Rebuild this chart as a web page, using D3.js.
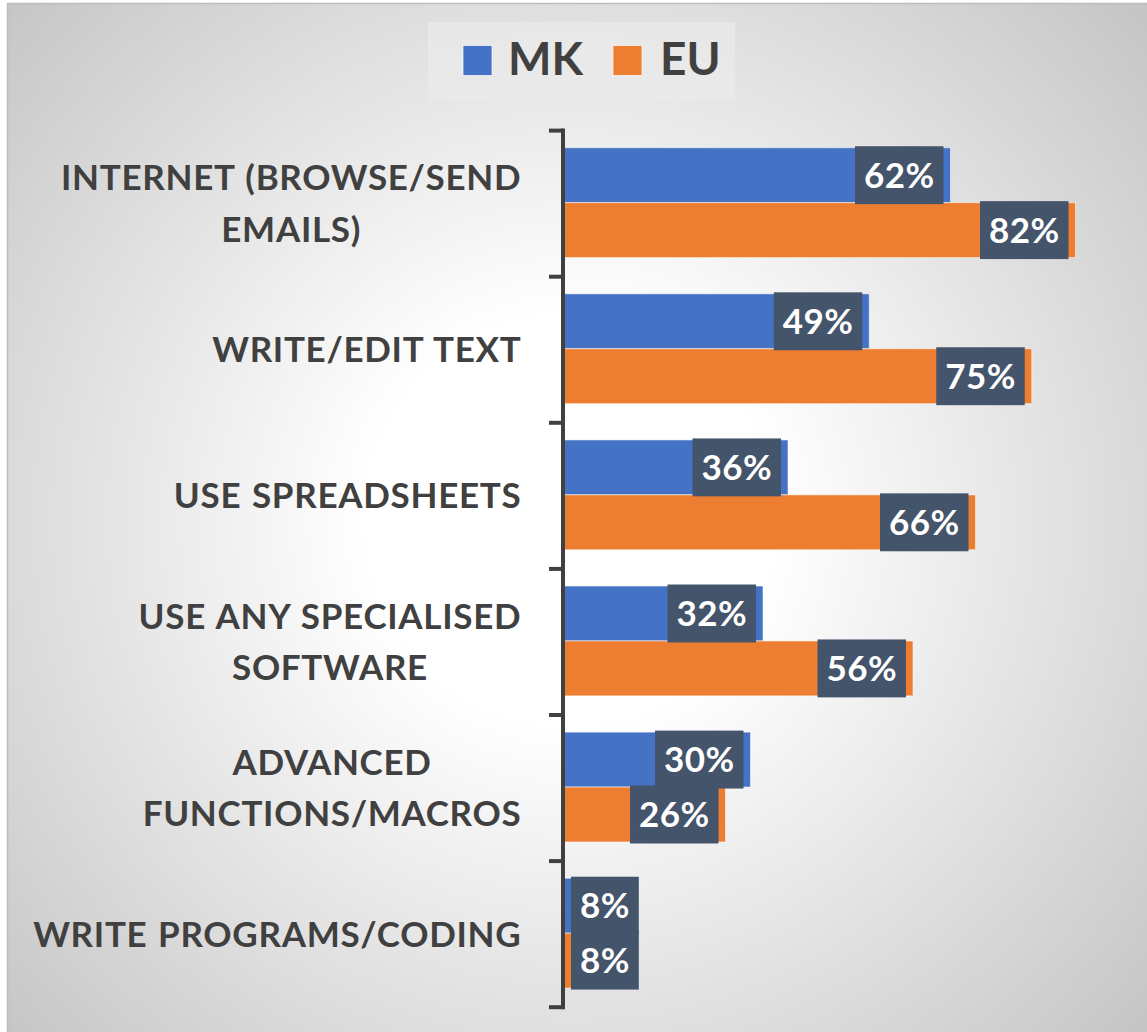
<!DOCTYPE html>
<html>
<head>
<meta charset="utf-8">
<script src="https://cdnjs.cloudflare.com/ajax/libs/d3/7.8.5/d3.min.js"></script>
<style>
  html, body { margin: 0; padding: 0; background: #ffffff; }
  svg { display: block; }
  text { font-family: "Lato", "Open Sans", sans-serif; font-weight: 700; }
</style>
</head>
<body>
<svg id="chart" width="1147" height="1032"></svg>
<script>
// Share of people using each computer skill, MK vs EU average (percent)
const categories = [
  ["INTERNET (BROWSE/SEND", "EMAILS)"],
  ["WRITE/EDIT TEXT"],
  ["USE SPREADSHEETS"],
  ["USE ANY SPECIALISED", "SOFTWARE"],
  ["ADVANCED", "FUNCTIONS/MACROS"],
  ["WRITE PROGRAMS/CODING"]
];
const seriesNames = ["MK", "EU"];
const mkValues = [62, 49, 36, 32, 30, 8];
const euValues = [82, 75, 66, 56, 26, 8];
const seriesColors = ["#4472c4", "#ed7d31"];

const W = 1147, H = 1032;
const svg = d3.select("#chart");

// Background: radial grey-to-white fill inside a thin frame
const defs = svg.append("defs");
const grad = defs.append("radialGradient")
  .attr("id", "bg")
  .attr("gradientUnits", "userSpaceOnUse")
  .attr("cx", 570).attr("cy", 520).attr("r", 780);
grad.append("stop").attr("offset", 0).attr("stop-color", "#ffffff");
grad.append("stop").attr("offset", 0.26).attr("stop-color", "#ffffff");
grad.append("stop").attr("offset", 1).attr("stop-color", "#c4c4c4");

svg.append("rect")
  .attr("x", 7.5).attr("y", 3.5)
  .attr("width", W).attr("height", H)
  .attr("fill", "url(#bg)")
  .attr("stroke", "#bcbcbc").attr("stroke-width", 1.5);

const keys = categories.map((c, i) => "c" + i);
const rows = keys.map((k, i) => ({ key: k, lines: categories[i], values: [mkValues[i], euValues[i]] }));

// Scales
const y = d3.scaleBand().domain(keys).range([130.6, 1007.2]).paddingInner(0).paddingOuter(0);
const ySeries = d3.scaleBand().domain(seriesNames).range([0, y.bandwidth()]).paddingInner(0).paddingOuter(0.33);
const x = d3.scaleLinear().domain([0, 100]).range([563, 1188]);

const textColor = "#404040";
const labelFill = "#44546a";
const fontSize = 35;

// Bars
const groups = svg.append("g").selectAll("g")
  .data(rows).join("g")
  .attr("transform", d => `translate(0,${y(d.key) - 1})`);

groups.selectAll("rect.bar")
  .data(d => d.values.map((v, j) => ({ v, s: seriesNames[j], j })))
  .join("rect")
  .attr("class", "bar")
  .attr("x", x(0))
  .attr("y", d => ySeries(d.s))
  .attr("width", d => x(d.v) - x(0))
  .attr("height", ySeries.bandwidth())
  .attr("fill", d => seriesColors[d.j])
  .attr("stroke", "rgba(255,255,255,0.55)")
  .attr("stroke-width", 1);

// Value labels: dark boxes sitting just inside the bar end
groups.each(function (row) {
  const g = d3.select(this);
  row.values.forEach((v, j) => {
    const s = seriesNames[j];
    const t = g.append("text")
      .attr("fill", "#ffffff")
      .attr("font-size", fontSize)
      .attr("letter-spacing", 0.4)
      .attr("text-anchor", "middle")
      .text(v + "%");
    const tw = t.node().getComputedTextLength();
    const bw = tw + 18;
    const bh = ySeries.bandwidth() + 3;
    let bx = x(v) - 7 - bw;
    bx = Math.max(bx, x(0) + 8);
    const by = ySeries(s) - 1.5;
    g.insert("rect", "text")
      .attr("x", bx).attr("y", by)
      .attr("width", bw).attr("height", bh)
      .attr("fill", labelFill);
    t.attr("x", bx + bw / 2).attr("y", by + bh / 2 + 12.5);
    t.raise();
  });
});

// Category axis: vertical rule with ticks between categories
const axisX = 563;
const boundaries = keys.map(k => y(k)).concat([y(keys[keys.length - 1]) + y.bandwidth()]);
const axis = svg.append("g");
axis.append("line")
  .attr("x1", axisX).attr("x2", axisX)
  .attr("y1", boundaries[0] - 2).attr("y2", boundaries[boundaries.length - 1] + 2)
  .attr("stroke", textColor).attr("stroke-width", 4);
axis.selectAll("line.tick")
  .data(boundaries).join("line")
  .attr("class", "tick")
  .attr("x1", axisX - 14).attr("x2", axisX)
  .attr("y1", d => d).attr("y2", d => d)
  .attr("stroke", textColor).attr("stroke-width", 4);

// Category labels: lines centred on each other, block right-aligned to the axis
const labelRight = 521;
const lineGap = 51.5;
const labelSpacing = 0.7;
rows.forEach(row => {
  const cy = y(row.key) + y.bandwidth() / 2;
  const g = svg.append("g");
  const texts = row.lines.map((ln, i) => g.append("text")
    .attr("fill", textColor)
    .attr("font-size", fontSize)
    .attr("letter-spacing", labelSpacing)
    .attr("word-spacing", 1.5)
    .attr("text-anchor", "middle")
    .attr("y", cy + 12.5 + (i - (row.lines.length - 1) / 2) * lineGap)
    .text(ln));
  const maxW = d3.max(texts, t => t.node().getComputedTextLength()) - labelSpacing;
  texts.forEach(t => t.attr("x", labelRight - maxW / 2));
});

// Legend
const legend = svg.append("g");
legend.append("rect")
  .attr("x", 428).attr("y", 22).attr("width", 307).attr("height", 78)
  .attr("fill", "#eaeaea").attr("opacity", 0.8);
const legendItems = [{ name: seriesNames[0], sx: 463, tx: 508 }, { name: seriesNames[1], sx: 613, tx: 660 }];
legendItems.forEach((it, i) => {
  legend.append("rect")
    .attr("x", it.sx).attr("y", 45.5).attr("width", 29).attr("height", 30)
    .attr("fill", seriesColors[i])
    .attr("stroke", "rgba(255,255,255,0.7)").attr("stroke-width", 1);
  legend.append("text")
    .attr("x", it.tx).attr("y", 75)
    .attr("fill", textColor)
    .attr("font-size", 46)
    .text(it.name);
});
</script>
</body>
</html>
